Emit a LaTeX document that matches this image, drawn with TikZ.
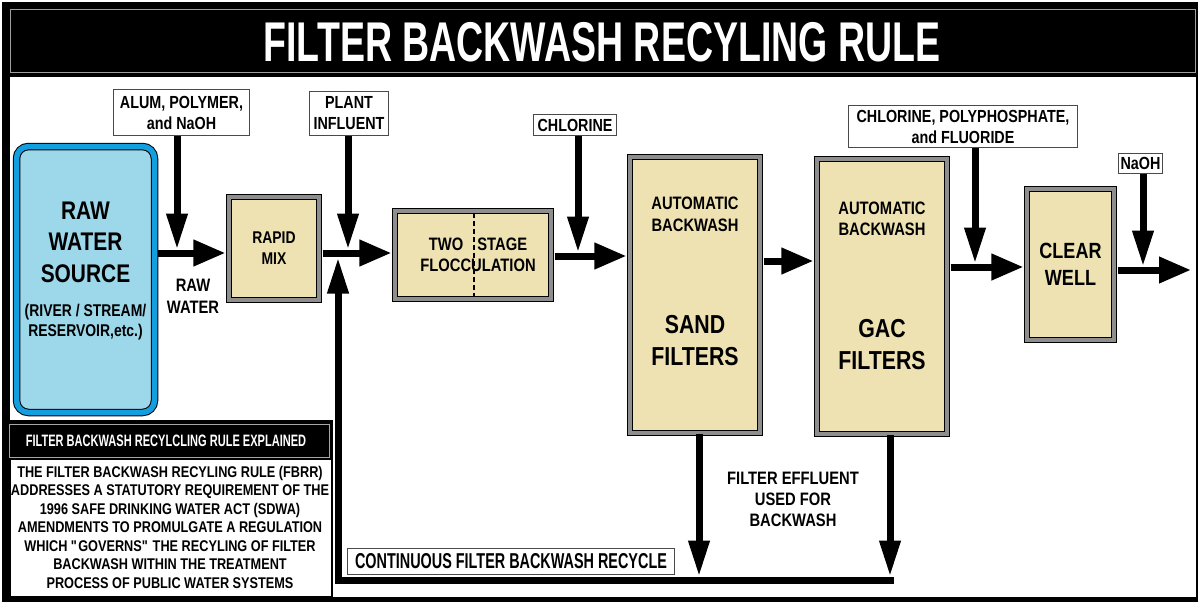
\documentclass[tikz,border=0pt]{standalone}
\usepackage{fontspec}
\setmainfont{Liberation Sans}[FakeStretch=0.82]
\newfontfamily\titlefont{Liberation Sans}[FakeStretch=0.67]
\usetikzlibrary{arrows.meta, positioning, calc}
\definecolor{tankfill}{HTML}{EEE2B2}
\definecolor{tankrim}{HTML}{8E8E8E}
\definecolor{srcrim}{HTML}{139FDF}
\definecolor{srcfill}{HTML}{9DD8EA}
\definecolor{tagline}{HTML}{4A4A4A}
\newcommand{\tagfont}{\bfseries\fontsize{17.5}{21}\selectfont}
\newcommand{\notefont}{\bfseries\fontsize{15.5}{18.5}\selectfont}

\begin{document}
\begin{tikzpicture}[x=1pt, y=-1pt,
    tank/.style={draw=black, line width=1.5pt, double=tankrim, double distance=3.5pt, fill=tankfill, inner sep=0pt, align=center},
    source/.style={draw=black, line width=1pt, double=srcrim, double distance=5.5pt, fill=srcfill, rounded corners=12pt, inner sep=0pt},
    tag/.style={draw=tagline, line width=1pt, fill=white, align=center, font=\tagfont, inner sep=0pt},
    lbl/.style={align=center, font=\tagfont, inner sep=0pt},
    flow/.style={line width=7pt, -{Triangle[length=32pt, width=25pt]}, shorten >=3pt, shorten <=3pt},
    feed/.style={line width=7pt, -{Triangle[length=36pt, width=20pt]}},
  ]
  % frame and title bar
  \fill[white] (0,0) rectangle (1198,602);
  \fill[black] (2,2) rectangle (1198,602);
  \fill[white] (10,77) rectangle (1196,597);
  \draw[gray!75, line width=1pt] (10,9.5) rectangle (1195,72.5);
  \node[text=white, inner sep=0pt, font=\titlefont\bfseries\fontsize{56}{60}\selectfont] (title) at (602,42) {FILTER BACKWASH RECYLING RULE};

  % explanation panel
  \fill[black] (3,420) rectangle (333,598);
  \draw[gray!70, line width=1pt] (9.5,424.5) rectangle (329.5,457);
  \fill[white] (11,460) rectangle (331,596);
  \node[text=white, inner sep=0pt, font=\titlefont\bfseries\fontsize{16.5}{19}\selectfont] (expl) at (166,441) {FILTER BACKWASH RECYLCLING RULE EXPLAINED};
  \node[align=center, inner sep=0pt, font=\notefont] (expltext) at (170,527) {THE FILTER BACKWASH RECYLING RULE (FBRR)\\ADDRESSES A STATUTORY REQUIREMENT OF THE\\1996 SAFE DRINKING WATER ACT (SDWA)\hspace*{2.2em}\\AMENDMENTS TO PROMULGATE A REGULATION\\WHICH \textquotedbl GOVERNS\textquotedbl{} THE RECYLING OF FILTER\\BACKWASH WITHIN THE TREATMENT\\PROCESS OF PUBLIC WATER SYSTEMS};

  % process units
  \node[source, minimum width=138pt, minimum height=266pt] (src) at (85.5,279.5) {};
  \node[align=center, inner sep=0pt, font=\bfseries\fontsize{25.5}{31.5}\selectfont] (srcname) at (85.5,242) {RAW\\WATER\\SOURCE};
  \node[align=center, inner sep=0pt, font=\bfseries\fontsize{17}{20}\selectfont] (srcnote) at (85.5,322) {(RIVER / STREAM/\\RESERVOIR,etc.)};
  \node[tank, minimum width=89.6pt, minimum height=102.6pt, font=\bfseries\fontsize{17}{21}\selectfont] (rapid) at (274,248.5) {RAPID\\MIX};
  \node[tank, minimum width=155.6pt, minimum height=87.6pt, font=\bfseries\fontsize{18}{21}\selectfont] (floc) at (473,255) {\hspace*{10pt}TWO\hspace{14pt}STAGE\\\hspace*{10pt}FLOCCULATION};
  \draw[line width=2pt, dash pattern=on 5pt off 3pt] ($(floc.north)+(1,3)$) -- ($(floc.south)+(1,-3)$);
  \node[tank, minimum width=129.6pt, minimum height=275.6pt] (sand) at (695,295) {};
  \node[lbl, font=\bfseries\fontsize{18}{22}\selectfont] (sandtop) at (695,214) {AUTOMATIC\\BACKWASH};
  \node[lbl, font=\bfseries\fontsize{26}{32}\selectfont] (sandname) at (695,341) {SAND\\FILTERS};
  \node[tank, minimum width=129.6pt, minimum height=274.6pt] (gac) at (882,296.5) {};
  \node[lbl, font=\bfseries\fontsize{18}{21}\selectfont] (gactop) at (882,218.5) {AUTOMATIC\\BACKWASH};
  \node[lbl, font=\bfseries\fontsize{26}{32}\selectfont] (gacname) at (882,345) {GAC\\FILTERS};
  \node[tank, minimum width=86.6pt, minimum height=150.6pt, font=\bfseries\fontsize{22}{27}\selectfont] (well) at (1070.5,264.5) {CLEAR\\WELL};

  % chemical feeds
  \node[tag, minimum width=136pt, minimum height=46pt] (alum) at (181.5,112.5) {ALUM, POLYMER,\\and NaOH};
  \node[tag, minimum width=79pt, minimum height=44pt] (plant) at (349,113.5) {PLANT\\INFLUENT};
  \node[tag, minimum width=83pt, minimum height=21pt] (chlor) at (575,125) {CHLORINE};
  \node[tag, minimum width=229pt, minimum height=42pt] (poly) at (963,126.5) {CHLORINE, POLYPHOSPHATE,\\and FLUORIDE};
  \node[tag, minimum width=44pt, minimum height=20pt] (naoh) at (1140.5,163.5) {NaOH};

  % labels
  \node[lbl, font=\bfseries\fontsize{18}{22}\selectfont] (rawlbl) at (193,296) {RAW\\WATER};
  \node[lbl, font=\bfseries\fontsize{18}{21}\selectfont] (efflbl) at (793,499) {FILTER EFFLUENT\\USED FOR\\BACKWASH};
  \node[draw=tagline, line width=1pt, fill=white, inner sep=0pt, minimum width=327pt, minimum height=26pt, font=\titlefont\bfseries\fontsize{21.5}{24}\selectfont] (recyc) at (511,561.5) {CONTINUOUS FILTER BACKWASH RECYCLE};

  % flow levels and junctions
  \coordinate (lv1) at (0,253);
  \coordinate (lv2) at (0,256);
  \coordinate (lv3) at (0,261);
  \coordinate (lv4) at (0,267);
  \coordinate (lv5) at (0,270);
  \coordinate (alumin) at (177,249.5);
  \coordinate (plantin) at (348,249.5);
  \coordinate (chlorin) at (578,252.5);
  \coordinate (polyin) at (975,263.5);
  \coordinate (naohin) at (1143,266.5);
  \coordinate (outlet) at (1194,270);
  \coordinate (sandret) at (699,576.5);
  \coordinate (gacret) at (890,576.5);
  \coordinate (rcend) at (893.5,580);
  \coordinate (rccorner) at (338,580);
  \coordinate (rctip) at (338,257.5);

  % main flow
  \draw[flow] (src.east |- lv1) -- (rapid.west |- lv1);
  \draw[flow] (rapid.east |- lv1) -- (floc.west |- lv1);
  \draw[flow] (floc.east |- lv2) -- (sand.west |- lv2);
  \draw[flow] (sand.east |- lv3) -- (gac.west |- lv3);
  \draw[flow] (gac.east |- lv4) -- (well.west |- lv4);
  \draw[flow] (well.east |- lv5) -- (outlet);

  % feeds
  \draw[feed] (alum.south -| alumin) -- (alumin);
  \draw[feed] (plant.south -| plantin) -- (plantin);
  \draw[feed] (chlor.south -| chlorin) -- (chlorin);
  \draw[feed] (poly.south -| polyin) -- (polyin);
  \draw[feed] (naoh.south -| naohin) -- (naohin);

  % backwash recycle
  \draw[feed] (sand.south -| sandret) -- (sandret);
  \draw[feed] (gac.south -| gacret) -- (gacret);
  \draw[feed] (rcend) -- (rccorner) -- (rctip);
\end{tikzpicture}
\end{document}
